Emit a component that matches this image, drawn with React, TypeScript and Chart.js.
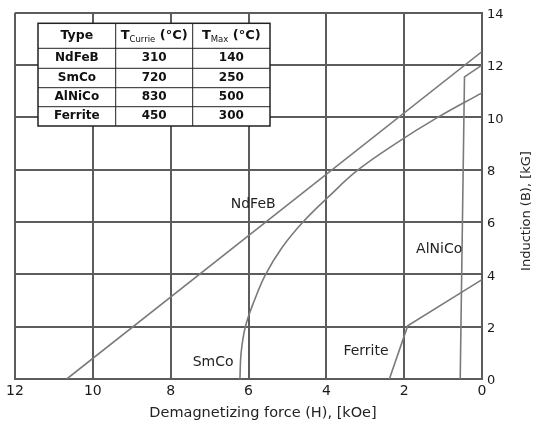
import React, { useEffect, useRef } from 'react';
import { Chart, registerables } from 'chart.js';

Chart.register(...registerables);

// Demagnetizing force H [kOe] and induction B [kG]
const ndfebH = [10.67, 0];
const ndfebB = [0, 12.52];
const smcoH = [6.22, 6.19, 6.08, 5.85, 5.56, 5.15, 4.6, 3.92, 3.18, 2.22, 1.14, 0];
const smcoB = [0, 1.0, 2.0, 3.0, 4.0, 5.0, 6.0, 7.0, 8.0, 9.0, 10.0, 10.94];
const alnicoH = [0.56, 0.45, 0];
const alnicoB = [0, 11.55, 12.0];
const ferriteH = [2.38, 1.91, 0];
const ferriteB = [0, 2.03, 3.8];

const tableTypes = ['NdFeB', 'SmCo', 'AlNiCo', 'Ferrite'];
const curieTemps = ['310', '720', '830', '450'];
const maxTemps = ['140', '250', '500', '300'];

const xTitle = 'Demagnetizing force (H), [kOe]';
const yTitle = 'Induction (B), [kG]';

const FONT = '"DejaVu Sans", Verdana, sans-serif';
const GRID = '#5c5c5c';
const CURVE = '#7a7a7a';

const toPts = (xs: number[], ys: number[]) => xs.map((x, i) => ({ x, y: ys[i] }));

const annotate = {
  id: 'annotate',
  afterDraw(chart: any) {
    const ctx = chart.ctx as CanvasRenderingContext2D;
    const xs = chart.scales.x;
    const ys = chart.scales.y;
    ctx.save();
    // curve labels
    ctx.fillStyle = '#222';
    ctx.font = `14px ${FONT}`;
    ctx.textAlign = 'center';
    ctx.textBaseline = 'middle';
    const lab = (t: string, h: number, b: number) =>
      ctx.fillText(t, xs.getPixelForValue(h), ys.getPixelForValue(b));
    lab('NdFeB', 5.88, 6.67);
    lab('SmCo', 6.91, 0.62);
    lab('Ferrite', 2.98, 1.04);
    lab('AlNiCo', 1.1, 4.95);

    // axis titles
    ctx.font = `14.5px ${FONT}`;
    ctx.fillText(xTitle, 263, 413);
    ctx.save();
    ctx.translate(527, 211);
    ctx.rotate(-Math.PI / 2);
    ctx.font = `13px ${FONT}`;
    ctx.fillText(yTitle, 0, 0);
    ctx.restore();

    // table
    const cols = [38, 115.7, 192.7, 270];
    const rows = [23.3, 48.3, 68.3, 87.7, 106.7, 126];
    ctx.fillStyle = '#fff';
    ctx.fillRect(cols[0], rows[0], cols[3] - cols[0], rows[5] - rows[0]);
    ctx.strokeStyle = '#222';
    ctx.lineWidth = 1;
    for (let i = 1; i < rows.length - 1; i++) {
      ctx.beginPath();
      ctx.moveTo(cols[0], rows[i]);
      ctx.lineTo(cols[3], rows[i]);
      ctx.stroke();
    }
    for (let i = 1; i < cols.length - 1; i++) {
      ctx.beginPath();
      ctx.moveTo(cols[i], rows[0]);
      ctx.lineTo(cols[i], rows[5]);
      ctx.stroke();
    }
    ctx.lineWidth = 1.5;
    ctx.strokeRect(cols[0], rows[0], cols[3] - cols[0], rows[5] - rows[0]);

    ctx.fillStyle = '#111';
    const cx = (i: number) => (cols[i] + cols[i + 1]) / 2;
    const cy = (j: number) => (rows[j] + rows[j + 1]) / 2;
    ctx.font = `bold 12.5px ${FONT}`;
    ctx.textAlign = 'center';
    ctx.fillText('Type', cx(0), cy(0));

    const subHeader = (main: string, sub: string, tail: string, i: number) => {
      ctx.font = `bold 13px ${FONT}`;
      const w1 = ctx.measureText(main).width;
      const w3 = ctx.measureText(tail).width;
      ctx.font = `8.5px ${FONT}`;
      const w2 = ctx.measureText(sub).width;
      let x = cx(i) - (w1 + w2 + w3) / 2;
      const y = cy(0);
      ctx.textAlign = 'left';
      ctx.font = `bold 13px ${FONT}`;
      ctx.fillText(main, x, y);
      x += w1;
      ctx.font = `8.5px ${FONT}`;
      ctx.fillText(sub, x, y + 3.5);
      x += w2;
      ctx.font = `bold 13px ${FONT}`;
      ctx.fillText(tail, x, y);
      ctx.textAlign = 'center';
    };
    subHeader('T', 'Currie', ' (\u00B0C)', 1);
    subHeader('T', 'Max', ' (\u00B0C)', 2);

    ctx.font = `bold 12px ${FONT}`;
    tableTypes.forEach((t, j) => {
      ctx.fillText(t, cx(0), cy(j + 1));
      ctx.fillText(curieTemps[j], cx(1), cy(j + 1));
      ctx.fillText(maxTemps[j], cx(2), cy(j + 1));
    });
    ctx.restore();
  },
};

export default function App() {
  const ref = useRef<HTMLCanvasElement | null>(null);
  useEffect(() => {
    if (!ref.current) return;
    const ds = (pts: { x: number; y: number }[], tension = 0) => ({
      data: pts,
      showLine: true,
      borderColor: CURVE,
      borderWidth: 1.6,
      pointRadius: 0,
      pointHoverRadius: 0,
      tension,
      fill: false,
    });
    const chart = new Chart(ref.current, {
      type: 'scatter',
      data: {
        datasets: [
          ds(toPts(ndfebH, ndfebB)),
          ds(toPts(smcoH, smcoB), 0.4),
          ds(toPts(alnicoH, alnicoB)),
          ds(toPts(ferriteH, ferriteB)),
        ],
      },
      options: {
        animation: false,
        responsive: false,
        devicePixelRatio: 1,
        layout: { padding: { left: 15, top: 11, right: 0, bottom: 0 } },
        plugins: { legend: { display: false }, tooltip: { enabled: false } },
        scales: {
          x: {
            type: 'linear',
            reverse: true,
            min: 0,
            max: 12,
            position: 'bottom',
            ticks: { stepSize: 2, color: '#1a1a1a', font: { family: FONT, size: 14 }, padding: 4, maxRotation: 0 },
            grid: { color: GRID, lineWidth: 2, drawTicks: false },
            border: { color: GRID, width: 2 },
            afterFit: (s: any) => { s.height = 47; },
          },
          y: {
            type: 'linear',
            min: 0,
            max: 14,
            position: 'right',
            ticks: { stepSize: 2, color: '#1a1a1a', font: { family: FONT, size: 13 }, padding: 5, labelOffset: 2 },
            grid: { color: GRID, lineWidth: 2, drawTicks: false },
            border: { color: GRID, width: 2 },
            afterFit: (s: any) => { s.width = 58; },
          },
        },
      },
      plugins: [annotate],
    });
    return () => chart.destroy();
  }, []);
  return (
    <div style={{ position: 'absolute', left: 0, top: 0, width: 540, height: 426, background: '#fff' }}>
      <canvas ref={ref} width={540} height={426} style={{ display: 'block' }} />
    </div>
  );
}
